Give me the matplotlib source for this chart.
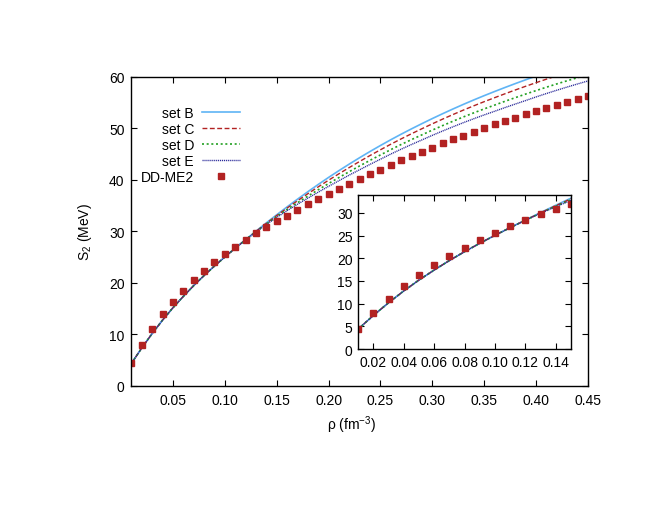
import matplotlib
matplotlib.use('Agg')
import matplotlib.pyplot as plt
import numpy as np

plt.rcParams['font.family'] = ['Liberation Sans', 'DejaVu Sans']
plt.rcParams['mathtext.default'] = 'regular'
plt.rcParams['font.size'] = 10

# density grid (fm^-3)
rho = [0.01, 0.02, 0.03, 0.04, 0.05, 0.06, 0.07, 0.08, 0.09, 0.10,
       0.11, 0.12, 0.13, 0.14, 0.15, 0.16, 0.17, 0.18, 0.19, 0.20,
       0.21, 0.22, 0.23, 0.24, 0.25, 0.26, 0.27, 0.28, 0.29, 0.30,
       0.31, 0.32, 0.33, 0.34, 0.35, 0.36, 0.37, 0.38, 0.39, 0.40,
       0.41, 0.42, 0.43, 0.44, 0.45]

low = [4.40, 7.40, 10.20, 12.80, 15.20, 17.40, 19.50, 21.45, 23.30, 25.05, 26.75]

set_b = low + [28.42, 30.07, 31.68, 33.25, 34.78, 36.27, 37.72, 39.13, 40.50,
               41.82, 43.10, 44.34, 45.54, 46.70, 47.82, 48.90, 49.94, 50.95, 51.93,
               52.88, 53.80, 54.69, 55.55, 56.38, 57.18, 57.96, 58.72, 59.46, 60.18,
               60.88, 61.56, 62.22, 62.86, 63.48]
set_c = low + [28.40, 30.02, 31.58, 33.09, 34.55, 35.96, 37.33, 38.66, 39.96,
               41.21, 42.43, 43.61, 44.76, 45.87, 46.95, 47.99, 48.99, 49.96, 50.91,
               51.83, 52.72, 53.58, 54.41, 55.21, 55.98, 56.74, 57.48, 58.20, 58.90,
               59.58, 60.24, 60.88, 61.50, 62.10]
set_d = low + [28.38, 29.96, 31.46, 32.90, 34.28, 35.59, 36.86, 38.10, 39.31,
               40.48, 41.63, 42.74, 43.82, 44.87, 45.90, 46.90, 47.85, 48.77, 49.69,
               50.57, 51.42, 52.25, 53.04, 53.81, 54.54, 55.28, 55.99, 56.69, 57.36,
               58.02, 58.66, 59.27, 59.87, 60.44]
set_e = low + [28.36, 29.91, 31.36, 32.74, 34.04, 35.28, 36.47, 37.63, 38.77,
               39.87, 40.96, 42.00, 43.04, 44.04, 45.04, 45.99, 46.90, 47.78, 48.67,
               49.52, 50.34, 51.14, 51.90, 52.64, 53.34, 54.06, 54.75, 55.43, 56.13,
               56.79, 57.43, 58.05, 58.65, 59.23]

ddme2 = [4.5, 8.0, 11.1, 13.9, 16.3, 18.5, 20.5, 22.35, 24.0, 25.6,
         27.05, 28.4, 29.7, 30.9, 32.05, 33.1, 34.2, 35.25, 36.3, 37.3,
         38.25, 39.25, 40.2, 41.1, 42.0, 42.9, 43.8, 44.65, 45.5, 46.3,
         47.1, 47.9, 48.6, 49.4, 50.1, 50.8, 51.5, 52.1, 52.8, 53.4,
         54.0, 54.6, 55.2, 55.8, 56.4]

main_xticks = [0.05, 0.10, 0.15, 0.20, 0.25, 0.30, 0.35, 0.40, 0.45]
main_yticks = [0, 10, 20, 30, 40, 50, 60]
inset_xticks = [0.02, 0.04, 0.06, 0.08, 0.10, 0.12, 0.14]
inset_yticks = [0, 5, 10, 15, 20, 25, 30]

styles = [
    ('set B', set_b, dict(color='#5fb4f5', lw=1.2, ls='-')),
    ('set C', set_c, dict(color='#b22222', lw=1.0, ls=(0, (3.5, 1.8)))),
    ('set D', set_d, dict(color='#22a022', lw=1.2, ls=(0, (1.2, 1.6)))),
    ('set E', set_e, dict(color='#2a2a9a', lw=1.0, ls=(0, (0.8, 0.6)))),
]
sq = dict(ls='none', marker='s', ms=4.8, color='#b22222', mec='#b22222')


def style_axes(ax):
    ax.tick_params(direction='in', top=True, right=True, length=4, width=0.8,
                   pad=5, labelsize=10)
    for s in ax.spines.values():
        s.set_linewidth(1.0)


fig = plt.figure(figsize=(6.6, 5.1), dpi=100)
ax = fig.add_axes([0.1992, 0.2412, 0.6917, 0.6059])
for name, vals, kw in styles:
    ax.plot(rho, vals, label=name, **kw)
ax.plot(rho, ddme2, label='DD-ME2', **sq)
ax.set_xlim(0.01, 0.45)
ax.set_ylim(0, 60)
ax.set_xticks(main_xticks)
ax.set_xticklabels(['%.2f' % t for t in main_xticks])
ax.set_yticks(main_yticks)
style_axes(ax)
ax.set_xlabel(r'ρ (fm$^{-3}$)', fontsize=10)
ax.set_ylabel(r'S$_2$ (MeV)', fontsize=10)
ax.xaxis.set_label_coords(0.483, -0.09)
ax.yaxis.set_label_coords(-0.082, 0.5)
ax.legend(loc='upper left', bbox_to_anchor=(0.005, 0.928), frameon=False,
          markerfirst=False, numpoints=1, handlelength=2.7, handletextpad=0.6,
          labelspacing=0.14, borderpad=0, fontsize=10)

ins = fig.add_axes([0.5427, 0.3137, 0.3224, 0.3025])
ins.set_facecolor('white')
for name, vals, kw in styles:
    ins.plot(rho, vals, **kw)
ins.plot(rho, ddme2, **sq)
ins.set_xlim(0.01, 0.15)
ins.set_ylim(0, 34)
ins.set_xticks(inset_xticks)
ins.set_xticklabels(['%.2f' % t for t in inset_xticks])
ins.set_yticks(inset_yticks)
style_axes(ins)
ins.tick_params(pad=4)

fig.savefig('out.png', dpi=100)
